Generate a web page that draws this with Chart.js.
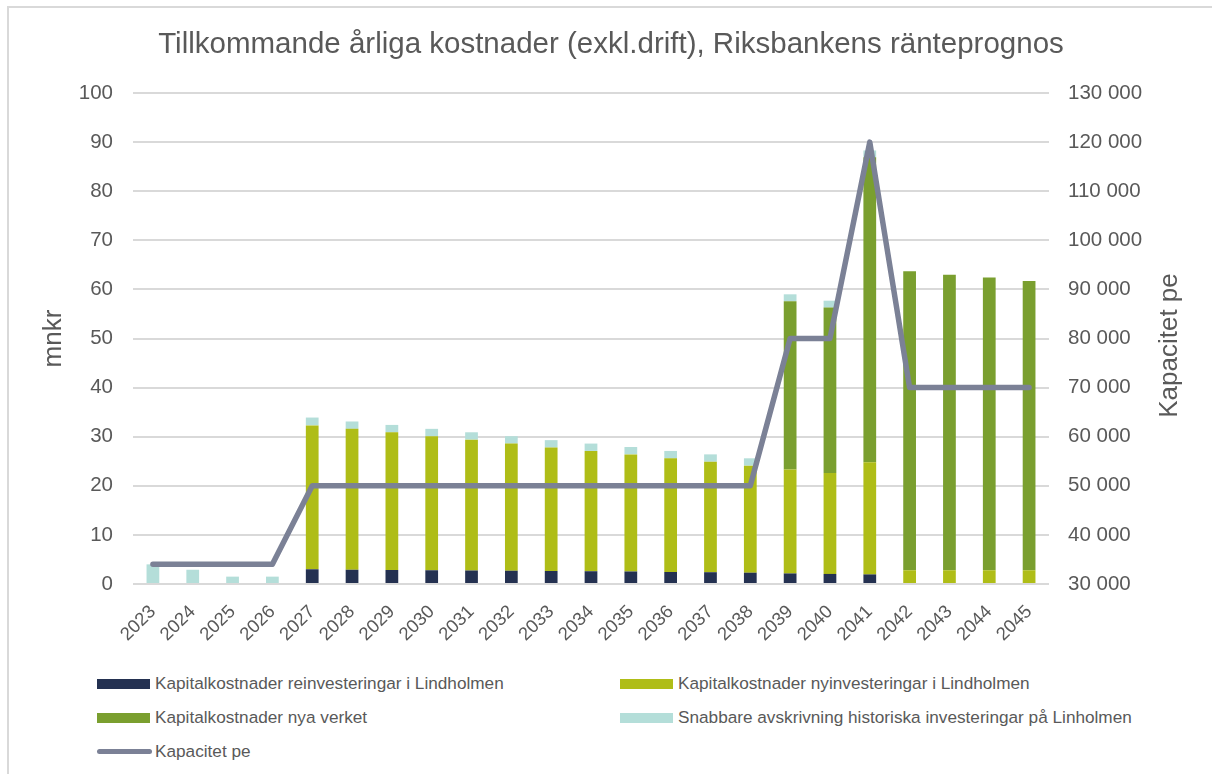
<!DOCTYPE html>
<html lang="sv">
<head>
    <meta charset="UTF-8">
    <title>Tillkommande årliga kostnader</title>
    <script src="https://cdn.jsdelivr.net/npm/chart.js"></script>
    <style>
        body { margin: 0; background: #fff; font-family: "Liberation Sans", Arial, sans-serif; }
        #wrap { position: relative; width: 1212px; height: 774px; overflow: hidden; }
        #frame { position: absolute; left: 7px; top: 6px; width: 1300px; height: 900px;
                 border-left: 2px solid #d9d9d9; border-top: 2px solid #d9d9d9; }
        #chart { position: absolute; left: 0; top: 0; }
        #legend { position: absolute; left: 97px; top: 673px; width: 1100px; }
        .item { position: absolute; display: flex; align-items: center; font-size: 17.2px; color: #595959; white-space: nowrap; }
        .item .box { width: 53px; height: 10px; margin-right: 5px; }
        .item .ln { width: 55px; height: 5px; border-radius: 3px; margin-right: 3px; }
    </style>
</head>
<body>
<div id="wrap">
    <div id="frame"></div>
    <canvas id="chart" width="1212" height="660"></canvas>
    <div id="legend"></div>
</div>
<script>
    // data
    const years = ['2023','2024','2025','2026','2027','2028','2029','2030','2031','2032','2033','2034',
                   '2035','2036','2037','2038','2039','2040','2041','2042','2043','2044','2045'];
    const reinvest = [0,0,0,0,3.0,2.9,2.85,2.8,2.75,2.7,2.65,2.6,2.55,2.45,2.4,2.3,2.15,2.05,1.95,0,0,0,0];
    const nyinvest = [0,0,0,0,29.3,28.7,28.05,27.3,26.65,25.9,25.15,24.5,23.85,23.15,22.5,21.8,21.15,20.55,22.85,2.8,2.8,2.8,2.8];
    const nyaVerket = [0,0,0,0,0,0,0,0,0,0,0,0,0,0,0,0,34.3,33.7,62.1,60.9,60.2,59.6,58.9];
    const snabbare = [4.0,2.9,1.5,1.5,1.6,1.5,1.5,1.5,1.5,1.5,1.5,1.5,1.5,1.5,1.5,1.5,1.4,1.4,1.4,0,0,0,0];
    const kapacitet = [34000,34000,34000,34000,50000,50000,50000,50000,50000,50000,50000,50000,
                       50000,50000,50000,50000,80000,80000,120000,70000,70000,70000,70000];

    const grey = '#595959';
    const font = '"Liberation Sans", Arial, sans-serif';

    function bar(label, data, color) {
        return { type: 'bar', label: label, data: data, backgroundColor: color,
                 yAxisID: 'y', stack: 's', order: 1, barPercentage: 0.64, categoryPercentage: 0.5 };
    }

    // right axis title reads bottom to top, so draw it here
    const rightTitle = {
        id: 'rightTitle',
        afterDraw(chart) {
            const ctx = chart.ctx, a = chart.chartArea;
            ctx.save();
            ctx.translate(chart.scales.y1.left + 121, (a.top + a.bottom) / 2 + 7);
            ctx.rotate(-Math.PI / 2);
            ctx.font = '26px ' + font;
            ctx.fillStyle = grey;
            ctx.textAlign = 'center';
            ctx.textBaseline = 'middle';
            ctx.fillText('Kapacitet pe', 0, 0);
            ctx.restore();
        }
    };

    const chart = new Chart(document.getElementById('chart'), {
        data: {
            labels: years,
            datasets: [
                bar('Kapitalkostnader reinvesteringar i Lindholmen', reinvest, '#243151'),
                bar('Kapitalkostnader nyinvesteringar i Lindholmen', nyinvest, '#afbd17'),
                bar('Kapitalkostnader nya verket', nyaVerket, '#7a9f2f'),
                bar('Snabbare avskrivning historiska investeringar på Linholmen', snabbare, '#b4ded9'),
                { type: 'line', label: 'Kapacitet pe', data: kapacitet, yAxisID: 'y1', order: 0,
                  borderColor: '#7b8196', borderWidth: 5.5, pointRadius: 0,
                  borderJoinStyle: 'round', borderCapStyle: 'round', tension: 0 }
            ]
        },
        options: {
            responsive: false,
            animation: false,
            devicePixelRatio: 1,
            layout: { padding: { left: 10, right: 0, top: 0, bottom: 0 } },
            plugins: {
                legend: { display: false },
                tooltip: { enabled: false },
                title: {
                    display: true,
                    text: 'Tillkommande årliga kostnader (exkl.drift), Riksbankens ränteprognos',
                    color: grey,
                    font: { family: font, size: 29.5, weight: 'normal' },
                    padding: { top: 27, bottom: 30.6 }
                }
            },
            scales: {
                x: {
                    stacked: true,
                    grid: { display: false },
                    border: { display: false },
                    ticks: { color: grey, font: { family: font, size: 18.5 }, minRotation: 45, maxRotation: 45, padding: 9 },
                    afterFit(s) { s.height = 76; }
                },
                y: {
                    position: 'left',
                    stacked: true,
                    min: 0, max: 100,
                    grid: { color: '#d9d9d9', lineWidth: 2, drawTicks: false },
                    border: { display: false },
                    ticks: { stepSize: 10, color: grey, font: { family: font, size: 20.5 }, padding: 20 },
                    title: { display: true, text: 'mnkr', color: grey, font: { family: font, size: 26 }, padding: { top: 28, bottom: 0 } },
                    afterFit(s) { s.width = 123; }
                },
                y1: {
                    position: 'right',
                    min: 30000, max: 130000,
                    grid: { display: false },
                    border: { display: false },
                    ticks: {
                        stepSize: 10000, color: grey, font: { family: font, size: 20.5 }, padding: 11,
                        callback: v => String(v).replace(/\B(?=(\d{3})+(?!\d))/g, ' ')
                    },
                    afterFit(s) { s.width = 163; }
                }
            }
        },
        plugins: [rightTitle]
    });

    // legend in two columns like the original
    const pos = [[0, 0], [523, 0], [0, 34], [523, 34], [0, 68]];
    const legend = document.getElementById('legend');
    chart.data.datasets.forEach((ds, i) => {
        const el = document.createElement('div');
        el.className = 'item';
        el.style.left = pos[i][0] + 'px';
        el.style.top = pos[i][1] + 'px';
        const sw = document.createElement('span');
        sw.className = ds.type === 'line' ? 'ln' : 'box';
        sw.style.background = ds.type === 'line' ? ds.borderColor : ds.backgroundColor;
        el.appendChild(sw);
        el.appendChild(document.createTextNode(ds.label));
        legend.appendChild(el);
    });
</script>
</body>
</html>
